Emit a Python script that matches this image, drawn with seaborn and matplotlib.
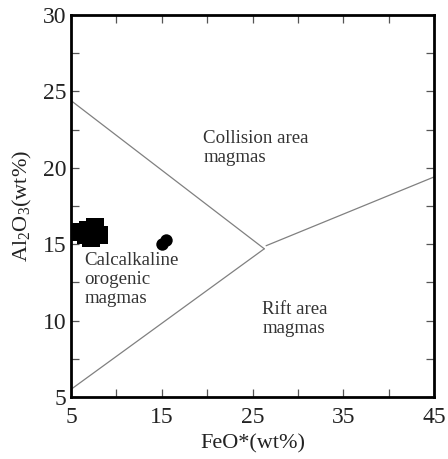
import matplotlib
matplotlib.use("Agg")
import matplotlib.pyplot as plt
import seaborn as sns
import pandas as pd
import numpy as np

sns.set_theme(style="ticks")
plt.rcParams['font.family'] = ['Liberation Serif', 'DejaVu Serif']
plt.rcParams['mathtext.fontset'] = 'custom'
plt.rcParams['mathtext.rm'] = 'Liberation Serif'

# Sample data
square_feo = [6.0, 6.6, 7.2, 7.6, 8.1, 6.9]
square_al = [15.8, 15.6, 15.4, 16.1, 15.6, 15.9]
circle_feo = [15.0, 15.45]
circle_al = [15.0, 15.25]

# Boundary lines
upper_x = [5, 26.3]
upper_y = [24.4, 14.7]
lower_x = [5, 26.3]
lower_y = [5.5, 14.7]
right_x = [26.5, 45]
right_y = [14.9, 19.4]

xticks = [5, 15, 25, 35, 45]
yticks = [5, 10, 15, 20, 25, 30]

fig = plt.figure(figsize=(4.48, 4.59), dpi=100)
ax = fig.add_axes([71/448, 62/459, (434-71)/448, (397-15)/459])

df_sq = pd.DataFrame({"FeO": square_feo, "Al2O3": square_al})
df_ci = pd.DataFrame({"FeO": circle_feo, "Al2O3": circle_al})

for xs, ys in [(upper_x, upper_y), (lower_x, lower_y), (right_x, right_y)]:
    sns.lineplot(x=xs, y=ys, ax=ax, color="#808080", linewidth=0.9, sort=False)

sns.scatterplot(data=df_sq, x="FeO", y="Al2O3", ax=ax, marker="s", s=150,
                color="black", edgecolor="black", linewidth=0, zorder=5)
sns.scatterplot(data=df_ci, x="FeO", y="Al2O3", ax=ax, marker="o", s=80,
                color="black", edgecolor="black", linewidth=0, zorder=5)

ax.set_xlim(5, 45)
ax.set_ylim(5, 30)
ax.set_xticks(xticks)
ax.set_xticks(np.arange(5, 46, 5), minor=True)
ax.set_yticks(yticks)
ax.set_yticks(np.arange(5, 30.1, 2.5), minor=True)
ax.tick_params(which="both", direction="in", top=True, right=True,
               length=6, width=0.9, color="#555555", labelsize=17, labelcolor="#222222")
ax.tick_params(axis="x", pad=7)
for sp in ax.spines.values():
    sp.set_linewidth(2)
    sp.set_color("black")

ax.set_xlabel("FeO*(wt%)", fontsize=16, color="#222222", labelpad=5)
ax.set_ylabel("Al$_2$O$_3$(wt%)", fontsize=16, color="#222222", labelpad=6)

tc = "#333333"
ax.text(19.6, 22.5, "Collision area\nmagmas", fontsize=13.6, color=tc, va="top", ha="left", linespacing=1.15)
ax.text(6.5, 14.5, "Calcalkaline\norogenic\nmagmas", fontsize=13.6, color=tc, va="top", ha="left", linespacing=1.15)
ax.text(26.1, 11.3, "Rift area\nmagmas", fontsize=13.6, color=tc, va="top", ha="left", linespacing=1.15)

fig.savefig("out.png", dpi=100, facecolor="white")
